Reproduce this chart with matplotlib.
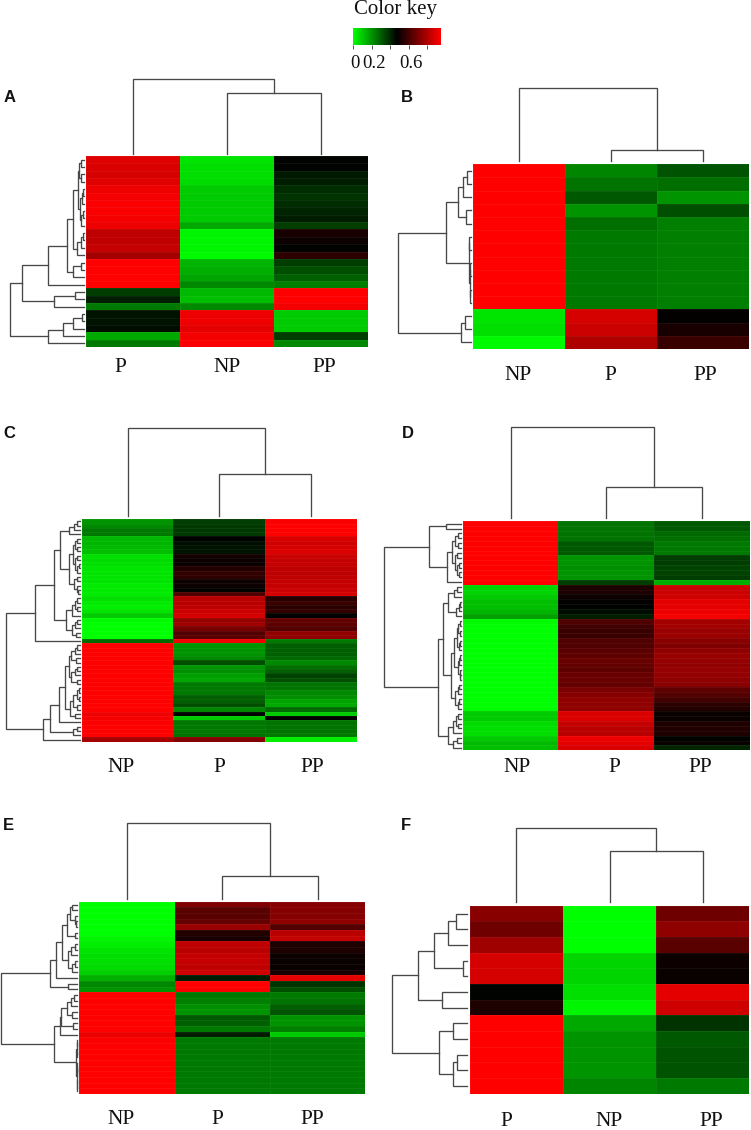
import numpy as np
import matplotlib
matplotlib.use('Agg')
import matplotlib.pyplot as plt
from matplotlib.colors import LinearSegmentedColormap
from matplotlib.transforms import ScaledTranslation

W = 751
H = 1130

key_ticks = [0, 0.2, 0.4, 0.6, 0.8]
key_labels = ['0', '0.2', '', '0.6', '']
key_max = 0.95

# heatmap values per column
a_cols = ['P', 'NP', 'PP']
a_p = [.89, .88, .87, .89, .92, .93, .94, .94, .93, .92, .83, .83, .84, .78, .95, .95, .95, .95,
       .36, .42, .25, .44, .44, .45, .16, .25]
a_np = [.05, .06, .06, .07, .10, .10, .10, .10, .10, .16, .02, .02, .02, .01, .14, .15, .17, .22,
        .13, .12, .22, .92, .92, .90, .93, .94]
a_pp = [.47, .47, .43, .42, .39, .38, .39, .41, .42, .36, .52, .50, .47, .56, .36, .33, .30, .24,
        .95, .95, .93, .10, .10, .10, .36, .22]

b_cols = ['NP', 'P', 'PP']
b_np = [.95, .95, .95, .95, .95, .95, .95, .95, .95, .95, .95, .05, .06, .01]
b_p = [.23, .26, .31, .20, .27, .25, .25, .25, .25, .25, .25, .87, .85, .80]
b_pp = [.32, .27, .20, .33, .24, .24, .24, .24, .24, .24, .24, .48, .52, .58]

c_cols = ['NP', 'P', 'PP']
c_np = [.20, .22, .25, .25, .13, .14, .13, .12, .06, .07, .06, .05, .05, .05, .05, .04, .04, .04,
        .06, .04, .03, .05, .10, .01, 0, 0, 0, 0, .28,
        .95, .95, .95, .95, .95, .95, .95, .95, .95, .95, .95, .95, .95, .95, .95, .95, .92, .93,
        .94, .95, .95, .95, .78]
c_p = [.36, .37, .37, .37, .47, .45, .44, .44, .51, .50, .49, .54, .57, .56, .50, .50, .47, .62,
       .82, .82, .83, .85, .87, .75, .77, .70, .63, .64, .93,
       .20, .20, .20, .22, .33, .20, .21, .18, .17, .25, .25, .25, .30, .30, .33, .23, .47, .10,
       .25, .25, .25, .26, .72]
c_pp = [.94, .95, .95, .95, .88, .86, .87, .88, .85, .84, .84, .83, .83, .83, .84, .84, .85, .87,
        .55, .58, .55, .57, .47, .66, .65, .63, .74, .74, .25,
        .30, .30, .30, .28, .22, .27, .30, .35, .33, .26, .26, .22, .21, .17, .16, .28, .10, .47,
        .26, .26, .26, .25, .03]

d_cols = ['NP', 'P', 'PP']
d_np = [.95, .95, .95, .95, .95, .95, .95, .95, .95, .95, .95, .95, .95,
        .08, .08, .10, .12, .12, .14, .18,
        .01, 0, 0, 0, 0, 0, 0, 0, 0, 0, 0, 0, 0, 0, 0, 0, 0, 0, 0,
        .10, .10, .07, .06, .06, .10, .13, .12]
d_p = [.26, .26, .26, .26, .31, .31, .31, .20, .20, .21, .20, .20, .36,
       .53, .53, .50, .48, .47, .45, .42,
       .62, .60, .58, .58, .62, .62, .64, .65, .67, .66, .65, .67, .67, .66, .70, .72, .74, .74, .74,
       .88, .88, .84, .82, .82, .92, .90, .88]
d_pp = [.31, .31, .28, .27, .25, .25, .25, .36, .36, .35, .35, .36, .15,
        .85, .85, .86, .90, .90, .92, .93,
        .78, .78, .76, .76, .73, .71, .74, .76, .75, .74, .75, .75, .74, .73, .65, .63, .60, .56, .54,
        .49, .49, .53, .54, .53, .47, .49, .41]

e_cols = ['NP', 'P', 'PP']
e_np = [0, 0, 0, 0, 0, 0, .02, .03, .05, .06, .06, .07, .09, .15, .22, .20,
        .95, .95, .95, .95, .95, .95, .95, .91, .94, .95, .95, .95, .95, .95, .95, .95, .95, .95]
e_p = [.71, .64, .64, .66, .76, .54, .52, .83, .82, .84, .84, .83, .86, .42, .95, .94,
       .25, .24, .21, .20, .31, .30, .25, .42, .25, .25, .25, .25, .25, .25, .25, .25, .25, .25]
e_pp = [.72, .72, .72, .74, .63, .82, .84, .53, .53, .50, .49, .49, .52, .90, .38, .33,
        .25, .26, .30, .32, .20, .20, .24, .10, .25, .25, .25, .25, .25, .25, .25, .25, .25, .25]

f_cols = ['P', 'NP', 'PP']
f_p = [.73, .68, .77, .87, .87, .47, .53, .95, .95, .95, .95, .95]
f_np = [0, 0, 0, .08, .08, .06, .02, .16, .20, .20, .20, .23]
f_pp = [.68, .74, .64, .50, .49, .90, .86, .38, .31, .32, .32, .25]

# dendrograms as (height, child, child), a 0 is the next leaf
c1 = (6, (5, (3, 0, 0), (3, 0, 0)), (4, (2, (1, 0, 0), 0), (3, (1, 0, 0), 0)))
c2 = (6.5, (3, (1, 0, 0), 0), 0)
a_tree = (74, (62, (36, (17, (11, c1, c2), (11, (3, 0, 0), 0)), 0), (30, (9, 0, 0), 0)),
          (36, (21, (11, (2, 0, 0), 0), 0), 0))

b_tree = (73, (25, (13, (8, (3.5, 0, 0), 0), (5, 0, 0)),
               (2, (1.5, 0, 0), (1.2, (0.8, 0, 0), (0.8, 0, 0)))),
          (10, (6, 0, 0), 0))

c3 = (11, (6, (3, 0, 0), 0), 0)
c4 = (11, (7, (5, (3, 0, 0), (3, 0, 0)), (5, (3, 0, 0), (3, (1, 0, 0), 0))),
      (6, (3, 0, 0), (3, 0, (2, 0, 0))))
c5 = (14, (8, (5, (3, 0, 0), (3, 0, 0)), 0), (8, (5, (3, 0, 0), 0), (4, 0, 0)))
c6 = (11, (9, (5, (3, 0, 0), 0), (4, 0, 0)), (9, (5, (3, 0, 0), 0), (3, 0, 0)))
c7 = (10, (7, (3, (1, 0, 0), (1, 0, 0)), (3, 0, 0)), (5, 0, 0))
c_tree = (74, (45, (26, (20, c3, c4), c5), 0),
          (37, (30, (21, (15, c6, c7), 0), (7, (3, 0, 0), 0)), 0))

d1 = (32, (15, 0, 0), (14, (9, (6, (3, 0, 0), (3, 0, 0)), (6, (4, 0, 0), (4, (2, 0, 0), (2, 0, 0)))), 0))
d2 = (13, (7, (4, 0, 0), 0), (5, (2, (1, 0, 0), 0), 0))
d3 = (10, (7, (4, (3, (1, 0, 0), (1, 0, 0)), (2, (1, 0, 0), 0)),
           (3, (2, (1, 0, 0), 0), (1, 0, (0.5, 0, 0)))),
      (6, (3, (2, 0, 0), 0), (3, (2, 0, 0), 0)))
d4 = (13, (8, (5, (3, 0, 0), (3, 0, 0)), 0), (8, (4, 0, 0), 0))
d_tree = (77, d1, (23, (18, d2, d3), d4))

e1 = (10, (7, (5, 0, 0), (2, 0, (1, 0, 0))), (2, 0, 0))
e2 = (9, (6, (2, 0, 0), 0), (5, (2, 0, 0), 0))
e3 = (17, (16, (10, (6, (3, 0, 0), 0), (5, 0, 0)), (4, 0, 0)), 0)
e4 = (1, (0.8, (0.5, 0, 0), (0.5, 0, 0)), (0.8, (0.5, 0, (0.3, 0, 0)), (0.5, 0, (0.3, 0, 0))))
e_tree = (76, (27, (21, (15, e1, e2), 0), (9, 0, 0)), (23, e3, e4))

f_tree = (75, (49, (33, (19, (11, 0, 0), 0), (4, 0, 0)), (25, 0, 0)),
          (28, (14, 0, 0), (14, (10, 0, 0), 0)))

a_top = (75, 0, (61, 0, 0))
b_top = (73, 0, (11, 0, 0))
c_top = (87.6, 0, (41.4, 0, 0))
d_top = (90.4, 0, (30.4, 0, 0))
e_top = (76, 0, (22.4, 0, 0))
f_top = (74, 0, (51.6, 0, 0))

cmap = LinearSegmentedColormap.from_list('gbr', ['#00ff00', '#000000', '#ff0000'])
line_col = '#484848'

fig = plt.figure(figsize=(W / 100, H / 100), dpi=100, facecolor='white')


def px_axes(x0, y0, x1, y1):
    ax = fig.add_axes([x0 / W, 1 - y1 / H, (x1 - x0) / W, (y1 - y0) / H])
    ax.axis('off')
    return ax


def draw_tree(ax, node, counter, left):
    # returns leaf position and height of this node
    if node == 0:
        counter[0] += 1
        return counter[0] - 0.5, 0
    h, a, b = node
    pa, ha = draw_tree(ax, a, counter, left)
    pb, hb = draw_tree(ax, b, counter, left)
    if left:
        ax.plot([ha, h, h, hb], [pa, pa, pb, pb], color=line_col, lw=0.95, clip_on=False,
                solid_joinstyle='miter')
    else:
        ax.plot([pa, pa, pb, pb], [ha, h, h, hb], color=line_col, lw=0.95, clip_on=False,
                solid_joinstyle='miter')
    return (pa + pb) / 2, h


def panel(letter, letter_xy, box, gap, top_base, cols, series, tree, top, label_xs, label_y):
    x0, y0, x1, y1 = box
    vals = np.array(series).T
    ax = px_axes(x0, y0, x1, y1)
    ax.pcolormesh(vals, cmap=cmap, vmin=0, vmax=key_max, edgecolors=(1, 1, 1, 0.05), linewidth=0.5)
    ax.set_xlim(0, vals.shape[1])
    ax.set_ylim(vals.shape[0], 0)

    # row dendrogram, one unit is one pixel
    ax_l = px_axes(x0 - gap - 80, y0, x0 - gap, y1)
    ax_l.set_xlim(80, 0)
    ax_l.set_ylim(vals.shape[0], 0)
    n = [0]
    draw_tree(ax_l, tree, n, True)
    assert n[0] == vals.shape[0], (letter, n[0], vals.shape[0])

    ax_t = px_axes(x0, top_base - 95, x1, top_base)
    ax_t.set_xlim(0, vals.shape[1])
    ax_t.set_ylim(0, 95)
    draw_tree(ax_t, top, [0], False)

    for name, lx in zip(cols, label_xs):
        fig.text(lx / W, 1 - label_y / H, name, family='Liberation Serif', fontsize=15.5,
                 ha='center', va='center', color='#111111')
    fig.text(letter_xy[0] / W, 1 - letter_xy[1] / H, letter, family='Liberation Sans',
             fontweight='bold', fontsize=12, ha='left', va='center', color='#111111')


panel('A', (3.5, 98), (86, 156, 368, 347), 2.5, 154, a_cols, [a_p, a_np, a_pp], a_tree, a_top,
      (120, 227, 324), 367)
panel('B', (401, 98), (473, 164.3, 749, 349), 2, 161, b_cols, [b_np, b_p, b_pp], b_tree, b_top,
      (517.7, 610, 705), 375)
panel('C', (3, 433), (81.7, 519.3, 356.7, 741.7), 1.7, 515.7, c_cols, [c_np, c_p, c_pp], c_tree, c_top,
      (121, 219, 312), 768)
panel('D', (401.5, 433), (462.7, 521.3, 749.7, 750.3), 1.7, 517.7, d_cols, [d_np, d_p, d_pp], d_tree, d_top,
      (517, 614, 700), 768)
panel('E', (2.5, 825.7), (79.3, 901.7, 365.3, 1094), 2, 898.7, e_cols, [e_np, e_p, e_pp], e_tree, e_top,
      (120.7, 217.7, 312.7), 1119)
panel('F', (401, 825), (469.7, 905.7, 749.3, 1093.7), 2.3, 902.3, f_cols, [f_p, f_np, f_pp], f_tree, f_top,
      (506.7, 609, 711.7), 1121.7)

# colour key
ax_key = fig.add_axes([353 / W, 1 - 45.3 / H, 88 / W, 17.8 / H])
ax_key.imshow(np.linspace(0, key_max, 256)[None, :], cmap=cmap, vmin=0, vmax=key_max,
              aspect='auto', extent=[0, key_max, 0, 1])
ax_key.set_yticks([])
ax_key.set_xticks(key_ticks)
ax_key.set_xticklabels(key_labels, family='Liberation Serif', fontsize=13.5)
ax_key.tick_params(axis='x', length=3, width=0.6, color='#333333', pad=4, labelcolor='#111111')
for lab in ax_key.get_xticklabels():
    lab.set_transform(lab.get_transform() + ScaledTranslation(0.02, 0, fig.dpi_scale_trans))
for s in ax_key.spines.values():
    s.set_visible(False)
fig.text(396 / W, 1 - 9.5 / H, 'Color key', family='Liberation Serif', fontsize=15,
         ha='center', va='center', color='#111111')

fig.savefig('out.png', dpi=100)
